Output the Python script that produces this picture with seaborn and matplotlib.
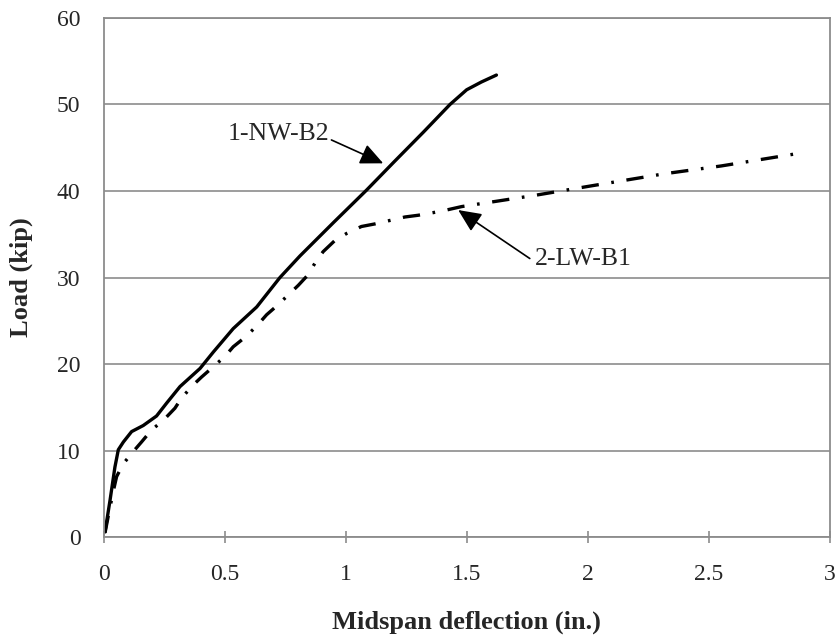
import matplotlib
matplotlib.use("Agg")
import matplotlib.pyplot as plt
import seaborn as sns
import pandas as pd

# 1-NW-B2 (solid)
nw_x = [0.004, 0.025, 0.045, 0.059, 0.080, 0.114, 0.162, 0.217, 0.259, 0.314,
        0.397, 0.452, 0.534, 0.631, 0.727, 0.810, 0.950, 1.085, 1.200, 1.320,
        1.430, 1.499, 1.560, 1.622]
nw_y = [0.6, 4.3, 8.1, 10.1, 11.0, 12.2, 12.9, 14.0, 15.5, 17.4,
        19.5, 21.4, 24.1, 26.6, 30.0, 32.5, 36.4, 40.1, 43.4, 46.8,
        50.0, 51.7, 52.6, 53.4]

# 2-LW-B1 (dash-dot)
lw_x = [0.004, 0.025, 0.039, 0.052, 0.080, 0.121, 0.155, 0.197, 0.245, 0.293,
        0.321, 0.369, 0.403, 0.452, 0.500, 0.534, 0.583, 0.631, 0.672, 0.713,
        0.762, 0.803, 0.843, 0.879, 0.906, 0.955, 1.003, 1.064, 1.120, 1.182,
        1.244, 1.299, 1.360, 1.415, 1.478, 1.595, 1.781, 2.015, 2.318, 2.552,
        2.860]
lw_y = [0.5, 3.5, 5.4, 7.0, 8.5, 9.9, 11.0, 12.4, 13.5, 14.9,
        16.1, 17.6, 18.5, 19.7, 20.9, 22.0, 23.1, 24.4, 25.7, 26.7,
        28.0, 29.1, 30.3, 32.0, 33.0, 34.3, 35.1, 35.9, 36.2, 36.6,
        37.0, 37.2, 37.5, 37.8, 38.2, 38.7, 39.5, 40.6, 42.0, 42.9,
        44.3]

x_ticks = [0, 0.5, 1, 1.5, 2, 2.5, 3]
x_tick_labels = ["0", "0.5", "1", "1.5", "2", "2.5", "3"]
y_ticks = [0, 10, 20, 30, 40, 50, 60]

sns.set_style("white")
plt.rcParams["font.family"] = ["Liberation Serif", "DejaVu Serif"]

fig = plt.figure(figsize=(8.39, 6.41), dpi=100)
ax = fig.add_axes([0.124, 0.162, 0.865, 0.810])

df_nw = pd.DataFrame({"x": nw_x, "y": nw_y})
df_lw = pd.DataFrame({"x": lw_x, "y": lw_y})

sns.lineplot(data=df_nw, x="x", y="y", sort=False, ax=ax, color="black",
             linewidth=2.4, estimator=None)
sns.lineplot(data=df_lw, x="x", y="y", sort=False, ax=ax, color="black",
             linewidth=2.4, estimator=None)
ax.lines[1].set_dashes([5.2, 3.8, 0.8, 3.8])

ax.set_xlim(0, 3)
ax.set_ylim(0, 60)
ax.set_xticks(x_ticks)
ax.set_xticklabels(x_tick_labels)
ax.set_yticks(y_ticks)
ax.yaxis.grid(True, color="#8c8c8c", linewidth=1.2)
ax.xaxis.grid(False)
ax.set_axisbelow(True)

for s in ax.spines.values():
    s.set_color("#8c8c8c")
    s.set_linewidth(1.3)
    s.set_visible(True)

ax.tick_params(axis="x", direction="inout", length=9, width=1.2,
               color="#8c8c8c", labelsize=17, pad=15, bottom=True)
ax.tick_params(axis="y", length=0, labelsize=17, pad=17, left=False)

ax.set_xlabel("Midspan deflection (in.)", fontsize=19, fontweight="bold",
              labelpad=18)
ax.set_ylabel("Load (kip)", fontsize=19, fontweight="bold", labelpad=17)

ax.text(0.93, 45.9, "1-NW-B2", fontsize=18.5, ha="right", va="baseline")
ax.annotate("", xy=(1.154, 43.2), xytext=(0.94, 45.9),
            arrowprops=dict(arrowstyle="-|>,head_length=0.7,head_width=0.32",
                            color="black", lw=1.2, mutation_scale=20,
                            shrinkA=0, shrinkB=0))
ax.text(1.781, 31.5, "2-LW-B1", fontsize=18.5, ha="left", va="baseline")
ax.annotate("", xy=(1.464, 37.8), xytext=(1.76, 32.2),
            arrowprops=dict(arrowstyle="-|>,head_length=0.7,head_width=0.32",
                            color="black", lw=1.2, mutation_scale=20,
                            shrinkA=0, shrinkB=0))

fig.savefig("out.png", dpi=100)
